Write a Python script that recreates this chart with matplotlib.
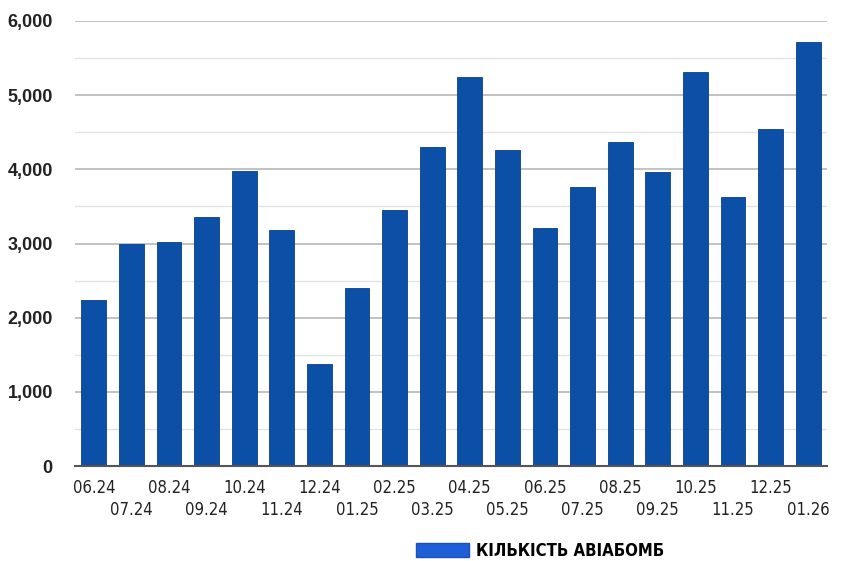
import matplotlib
matplotlib.use("Agg")
import matplotlib.pyplot as plt
from matplotlib.patches import Patch

months = ["06.24", "07.24", "08.24", "09.24", "10.24", "11.24", "12.24", "01.25",
          "02.25", "03.25", "04.25", "05.25", "06.25", "07.25", "08.25", "09.25",
          "10.25", "11.25", "12.25", "01.26"]
bombs = [2240, 3000, 3020, 3360, 3980, 3180, 1375, 2400,
         3450, 4295, 5250, 4260, 3210, 3760, 4370, 3970,
         5315, 3630, 4540, 5710]
yticks = [0, 1000, 2000, 3000, 4000, 5000, 6000]
legend_label = "КІЛЬКІСТЬ АВІАБОМБ"

fig = plt.figure(figsize=(8.46, 5.61), dpi=100)
ax = fig.add_axes([0.0887, 0.1693, 0.8888, 0.7933])

x = list(range(len(months)))
ax.bar(x, bombs, width=0.66, color="#0b4fa6", edgecolor="#0a3f8a", linewidth=0.6, zorder=3)

ax.set_xlim(-0.5, len(months) - 0.5)
ax.set_ylim(0, 6000)
ax.set_yticks(yticks)
ax.set_yticklabels([f"{v:,}" for v in yticks], fontsize=13, fontweight="bold",
                   family="Liberation Sans", color="#222222")
ax.grid(axis="y", which="major", color="#b8b8b8", linewidth=1.2, zorder=0)
ax.tick_params(axis="y", which="both", length=0, pad=16)

# gridlines at half steps (lighter)
for v in [500, 1500, 2500, 3500, 4500, 5500]:
    ax.axhline(v, color="#e2e2e2", linewidth=1.0, zorder=0)

even = x[0::2]
odd = x[1::2]
tick_font = dict(fontsize=12, family="DejaVu Sans", fontstretch="condensed", color="#222222")
ax.set_xticks(even)
ax.set_xticklabels([months[i] for i in even], **tick_font)
ax.set_xticks(odd, minor=True)
ax.set_xticklabels([months[i] for i in odd], minor=True, **tick_font)
ax.tick_params(axis="x", which="major", length=0, pad=9)
ax.tick_params(axis="x", which="minor", length=0, pad=25)

for s in ["top", "right", "left"]:
    ax.spines[s].set_visible(False)
ax.spines["bottom"].set_color("#555555")
ax.spines["bottom"].set_linewidth(1.5)
ax.spines["bottom"].set_zorder(4)

handle = Patch(facecolor="#1f5fd6", edgecolor="#1a50b8")
fig.legend([handle], [legend_label], loc="center", bbox_to_anchor=(0.638, 0.018),
           frameon=False, handlelength=3.2, handleheight=0.9, handletextpad=0.4,
           prop={"family": "DejaVu Sans", "stretch": "condensed", "weight": "bold", "size": 12})

fig.savefig("out.png", dpi=100, facecolor="white")
